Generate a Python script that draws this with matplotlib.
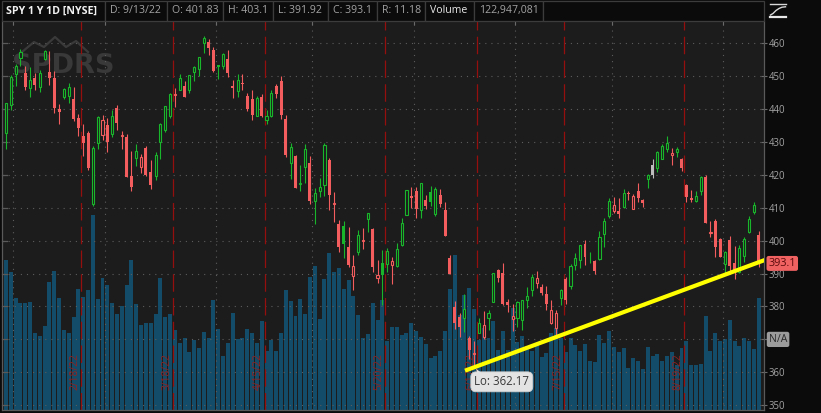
import matplotlib
matplotlib.use("Agg")
import matplotlib.pyplot as plt
from matplotlib.patches import Rectangle, Polygon
from matplotlib.lines import Line2D
import matplotlib.transforms as mtrans

plt.rcParams['font.family'] = ['Open Sans', 'DejaVu Sans']

# ---------------- data ----------------
dates = ["1/28", "1/31",
         "2/1", "2/2", "2/3", "2/4", "2/7", "2/8", "2/9", "2/10", "2/11", "2/14", "2/15", "2/16", "2/17", "2/18",
         "2/22", "2/23", "2/24", "2/25", "2/28",
         "3/1", "3/2", "3/3", "3/4", "3/7", "3/8", "3/9", "3/10", "3/11", "3/14", "3/15", "3/16", "3/17", "3/18",
         "3/21", "3/22", "3/23", "3/24", "3/25", "3/28", "3/29", "3/30", "3/31",
         "4/1", "4/4", "4/5", "4/6", "4/7", "4/8", "4/11", "4/12", "4/13", "4/14", "4/18", "4/19", "4/20", "4/21",
         "4/22", "4/25", "4/26", "4/27", "4/28", "4/29",
         "5/2", "5/3", "5/4", "5/5", "5/6", "5/9", "5/10", "5/11", "5/12", "5/13", "5/16", "5/17", "5/18", "5/19",
         "5/20", "5/23", "5/24", "5/25", "5/26", "5/27", "5/31",
         "6/1", "6/2", "6/3", "6/6", "6/7", "6/8", "6/9", "6/10", "6/13", "6/14", "6/15", "6/16", "6/17", "6/21",
         "6/22", "6/23", "6/24", "6/27", "6/28", "6/29", "6/30",
         "7/1", "7/5", "7/6", "7/7", "7/8", "7/11", "7/12", "7/13", "7/14", "7/15", "7/18", "7/19", "7/20", "7/21",
         "7/22", "7/25", "7/26", "7/27", "7/28", "7/29",
         "8/1", "8/2", "8/3", "8/4", "8/5", "8/8", "8/9", "8/10", "8/11", "8/12", "8/15", "8/16", "8/17", "8/18",
         "8/19", "8/22", "8/23", "8/24", "8/25", "8/26", "8/29", "8/30", "8/31",
         "9/1", "9/2", "9/6", "9/7", "9/8", "9/9", "9/12", "9/13"]

opens = [432.68, 441.24,
         450.68, 455.50, 450.95, 446.35, 449.51, 446.73, 455.22, 451.34, 449.41, 439.92, 443.73, 443.93, 443.22, 437.33,
         431.89, 432.66, 411.02, 429.61, 432.03,
         435.04, 432.37, 440.47, 431.75, 431.55, 419.62, 425.14, 422.52, 428.12, 420.89, 419.77, 429.89, 433.59, 438.00,
         444.34, 445.86, 446.91, 445.94, 451.16, 452.06, 460.02, 460.34, 457.89,
         453.31, 453.13, 455.22, 446.89, 445.59, 447.97, 444.11, 443.08, 438.03, 443.55, 436.81, 437.86, 446.92, 448.54,
         436.91, 423.67, 425.83, 417.24, 422.29, 423.59,
         412.07, 415.01, 417.08, 424.55, 411.10, 405.10, 404.49, 398.07, 389.37, 396.71, 399.98, 406.53, 403.50, 388.62,
         393.25, 392.83, 392.56, 392.31, 398.67, 407.91, 413.55,
         415.17, 409.42, 412.40, 414.78, 408.10, 413.93, 409.34, 394.88, 379.85, 376.85, 376.51, 370.51, 365.51, 371.89,
         370.62, 376.64, 381.40, 391.05, 390.23, 381.23, 376.24,
         376.56, 375.88, 382.11, 385.12, 387.27, 385.85, 383.65, 375.10, 373.61, 382.55, 388.38, 386.08, 392.47, 394.16,
         398.92, 395.75, 393.84, 394.36, 401.89, 407.58,
         409.15, 409.12, 410.30, 414.37, 409.66, 415.25, 412.22, 418.78, 422.99, 422.03, 424.77, 428.00, 425.98, 426.86,
         424.98, 417.05, 412.90, 412.11, 415.24, 419.39, 402.20, 405.89, 400.41,
         392.89, 400.28, 393.13, 390.37, 395.34, 402.74, 408.78, 401.83]

highs = [442.00, 450.28,
         453.63, 458.12, 452.97, 452.78, 450.99, 451.92, 457.88, 457.71, 451.61, 441.60, 446.28, 448.06, 446.57, 438.66,
         435.50, 433.26, 428.76, 437.84, 438.20,
         437.17, 439.72, 441.11, 433.37, 432.30, 427.21, 429.51, 426.43, 428.77, 424.55, 426.84, 435.68, 441.07, 444.86,
         446.46, 450.58, 448.49, 450.50, 452.98, 455.91, 462.07, 461.20, 458.76,
         453.46, 456.91, 457.83, 448.93, 450.69, 450.63, 445.00, 445.75, 444.11, 444.73, 439.75, 445.80, 447.57, 450.01,
         438.08, 429.64, 426.04, 422.92, 429.28, 425.87,
         415.92, 418.93, 429.66, 425.00, 414.80, 406.41, 406.08, 404.04, 395.80, 403.18, 403.97, 408.57, 403.80, 394.14,
         397.03, 397.73, 395.15, 399.45, 407.04, 415.38, 416.46,
         416.24, 417.44, 414.04, 416.61, 416.22, 415.82, 411.74, 395.78, 381.81, 377.94, 383.90, 371.00, 369.38, 376.52,
         378.72, 378.83, 390.09, 391.36, 393.16, 382.27, 380.66,
         381.70, 381.98, 385.87, 389.83, 390.64, 386.87, 386.16, 381.92, 379.05, 385.25, 389.09, 392.87, 396.26, 398.84,
         400.18, 396.47, 394.06, 402.88, 406.80, 413.03,
         413.41, 413.00, 415.68, 415.09, 414.15, 417.62, 412.75, 420.14, 424.95, 427.21, 429.40, 431.73, 428.05, 428.61,
         425.26, 417.10, 415.42, 415.11, 419.56, 419.96, 405.84, 406.60, 400.88,
         396.78, 401.56, 398.54, 398.59, 401.19, 407.51, 411.73, 403.10]

lows = [427.82, 439.81,
        446.94, 453.05, 445.71, 443.83, 445.85, 445.22, 455.01, 447.20, 438.94, 435.34, 443.18, 441.94, 436.42, 431.82,
        425.86, 421.35, 410.64, 427.86, 430.70,
        427.11, 431.57, 433.80, 427.88, 419.36, 415.12, 422.82, 420.44, 419.53, 415.79, 418.42, 424.80, 433.19, 437.22,
        440.68, 445.86, 443.71, 444.76, 448.43, 450.06, 457.18, 456.47, 451.16,
        449.14, 452.26, 449.82, 443.47, 443.53, 445.94, 439.39, 436.65, 437.84, 437.68, 435.61, 437.68, 443.48, 437.10,
        425.44, 418.84, 416.07, 415.01, 417.60, 411.21,
        405.02, 413.36, 413.71, 409.44, 405.73, 396.50, 394.82, 391.96, 385.15, 395.61, 397.60, 402.58, 390.55, 387.11,
        380.54, 390.38, 386.96, 391.89, 398.45, 407.70, 410.03,
        406.93, 407.04, 409.51, 410.55, 407.61, 410.38, 401.44, 389.75, 373.30, 370.59, 372.12, 364.08, 362.17, 371.81,
        370.18, 372.89, 381.37, 387.44, 380.53, 378.42, 372.56,
        373.80, 372.90, 379.60, 383.27, 385.66, 383.50, 378.99, 374.66, 371.04, 380.54, 380.66, 385.39, 391.03, 391.63,
        392.75, 393.21, 389.95, 394.05, 398.15, 406.77,
        408.40, 406.82, 410.00, 412.44, 409.60, 411.83, 410.22, 415.92, 419.21, 421.03, 424.71, 426.88, 422.98, 425.50,
        421.22, 411.82, 411.77, 411.77, 413.88, 405.25, 401.20, 394.95, 395.11,
        390.04, 390.33, 388.42, 390.20, 393.63, 402.46, 408.10, 391.92]

closes = [441.95, 449.91,
          452.95, 457.35, 446.60, 448.70, 447.26, 450.94, 457.54, 449.32, 440.46, 439.02, 446.10, 446.60, 437.06, 434.23,
          429.57, 421.95, 428.30, 437.75, 436.63,
          429.98, 437.89, 435.71, 432.17, 419.43, 416.25, 427.41, 425.48, 420.07, 417.00, 426.17, 435.62, 441.07, 444.52,
          444.39, 449.59, 443.80, 450.49, 452.69, 455.91, 461.55, 458.70, 451.64,
          452.92, 456.80, 451.03, 446.52, 448.77, 447.57, 439.92, 438.29, 443.31, 437.79, 437.97, 445.04, 444.71, 438.06,
          426.04, 428.51, 416.10, 417.27, 427.81, 412.00,
          414.48, 416.38, 429.06, 413.81, 411.34, 398.17, 399.09, 392.75, 392.34, 401.72, 400.09, 408.32, 391.86, 389.46,
          389.63, 396.92, 393.89, 397.37, 405.31, 415.26, 412.93,
          409.59, 417.39, 410.54, 411.79, 415.74, 411.22, 401.44, 389.80, 375.00, 373.87, 379.20, 366.65, 365.86, 375.07,
          374.39, 378.06, 390.08, 388.59, 380.65, 380.34, 377.25,
          381.24, 381.96, 383.25, 388.99, 388.67, 384.23, 380.83, 378.83, 377.91, 385.13, 381.95, 392.27, 394.77, 398.79,
          395.09, 395.57, 390.89, 401.04, 406.07, 411.99,
          410.77, 408.06, 414.45, 414.17, 413.47, 412.99, 411.35, 419.99, 419.99, 427.10, 428.86, 429.70, 426.65, 427.89,
          422.14, 413.35, 412.35, 413.67, 419.51, 405.31, 402.63, 398.21, 395.18,
          396.42, 392.24, 390.76, 397.78, 400.38, 406.60, 410.97, 393.10]

volumes_m = [165.0, 152.0,
             123.2, 117.4, 118.0, 118.5, 84.0, 81.0, 92.0, 140.0, 153.0, 123.0, 88.0, 84.5, 102.0, 132.6,
             124.0, 132.0, 213.9, 121.5, 145.0,
             137.0, 117.0, 105.0, 114.0, 137.0, 164.8, 116.0, 93.0, 95.5, 95.5, 105.0, 145.0, 102.0, 105.0,
             88.0, 73.5, 79.0, 63.7, 77.0, 68.0, 85.6, 79.0, 121.0,
             89.0, 59.0, 73.5, 106.0, 78.0, 79.0, 89.0, 84.0, 73.5, 97.7, 65.0, 77.0, 65.0, 84.5,
             132.0, 119.6, 103.0, 122.0, 105.0, 145.5,
             158.0, 100.0, 144.0, 172.0, 151.8, 155.6, 132.5, 142.4, 125.0, 104.0, 78.6, 83.0, 117.7, 98.5,
             121.0, 76.0, 91.4, 91.5, 82.2, 84.8, 95.9,
             86.6, 79.6, 71.9, 57.5, 59.3, 64.3, 86.3, 132.9, 170.0, 104.6, 125.7, 134.0, 111.0, 76.8,
             90.0, 79.0, 98.0, 66.0, 86.5, 65.7, 112.5,
             74.8, 81.4, 70.4, 64.5, 72.4, 58.4, 62.2, 84.2, 89.7, 79.1, 63.2, 78.5, 71.3, 64.9,
             72.2, 53.6, 52.9, 82.3, 73.4, 87.1,
             69.3, 63.4, 67.8, 45.6, 56.8, 53.9, 44.9, 68.7, 59.5, 61.7, 54.0, 59.3, 63.6, 49.0,
             68.0, 76.0, 49.0, 49.2, 50.9, 102.8, 65.1, 85.0, 76.0,
             78.0, 99.0, 76.0, 70.6, 79.0, 76.0, 67.0, 122.95]

prev_close_first = 431.24

expiry_dates = ["2/18", "3/18", "4/14", "5/20", "6/17", "7/15", "8/19"]
expiry_labels = ["2/18/22", "3/18/22", "4/15/22", "5/20/22", "6/17/22", "7/15/22", "8/19/22"]
month_starts = ["2/1", "3/1", "4/1", "5/2", "6/1", "7/1", "8/1", "9/1"]
price_ticks = [350, 360, 370, 380, 390, 400, 410, 420, 430, 440, 450, 460]
hidden_tick = 370          # covered by the N/A volume tag in the reference

trend_idx = [95.13, 157.66]
trend_price = [360.49, 394.35]
low_label = "Lo: 362.17"
low_date = "6/17"
low_value = 362.17

header_items = [("SPY 1 Y 1D [NYSE]", 2, 105), ("D: 9/13/22", 105, 167), ("O: 401.83", 167, 223),
                ("H: 403.1", 223, 273), ("L: 391.92", 273, 328), ("C: 393.1", 328, 377),
                ("R: 11.18", 377, 425), ("Volume", 425, 474), ("122,947,081", 474, 543), ("", 543, 764)]
last_price_label = "393.1"
volume_tag = "N/A"

# ---------------- style ----------------
W, H = 821, 413
BG = '#1c1c1c'
DARK = '#0b0b0b'
GREEN = '#19b52b'
RED = '#f45d5d'
GRAY_C = '#bdbdbd'
VOL = '#134c69'
GRID = '#5c5c5c'
EXP = '#950f0f'
TXT = '#a3a3a3'

fig = plt.figure(figsize=(W / 100, H / 100), dpi=100, facecolor=DARK)

L, R, T, B = 2, 764, 21, 410
pos = [L / W, 1 - B / H, (R - L) / W, (B - T) / H]
axv = fig.add_axes(pos)
ax = fig.add_axes(pos, sharex=axv)
ax.set_facecolor('none')
axv.set_facecolor(BG)

n = len(dates)
xs = list(range(n))
step = 4.825
x_lo = (L - 6) / step
x_hi = (R - 6) / step
axv.set_xlim(x_lo, x_hi)
ax.set_ylim(348.54, 466.78)
axv.set_ylim(0, (B - T) * 1.0977)

# volume bars
axv.bar(xs, volumes_m, width=0.82, color=VOL, linewidth=0, zorder=2)

# watermark
axv.text(12 / W, 1 - 66 / H, "SPDRS", transform=fig.transFigure, fontsize=19.5, family='DejaVu Sans',
         fontweight='bold', color='#393939', va='center', ha='left', zorder=1)
wm_x = [22, 34, 44, 55, 66, 76, 88]
wm_y = [52, 42, 47, 37, 47, 41, 52]
axv.add_line(Line2D([v / W for v in wm_x], [1 - v / H for v in wm_y], transform=fig.transFigure,
                    color='#3a3a3a', lw=1.6, zorder=1))

for s in axv.spines.values():
    s.set_visible(False)
axv.tick_params(axis='both', which='both', bottom=False, left=False, top=False, right=False,
                labelbottom=False, labelleft=False)
axv.set_yticks([])

# grid
for p in price_ticks:
    ax.axhline(p, color=GRID, lw=0.8, linestyle=(0, (1, 4.5)), zorder=1)
for d in month_starts:
    ax.axvline(dates.index(d) - 0.5, color=GRID, lw=0.8, linestyle=(0, (1, 4.5)), zorder=1)

# expiry lines + labels
for d, lab in zip(expiry_dates, expiry_labels):
    xp = dates.index(d) + 0.6
    ax.axvline(xp, color=EXP, lw=0.9, linestyle=(0, (14, 5)), zorder=2)
    ax.annotate(lab, xy=(xp, 0), xycoords=('data', 'axes fraction'), xytext=(-4.3, 14.4),
                textcoords='offset points', rotation=90, ha='center', va='bottom',
                color='#8e2222', fontsize=7.4, zorder=2)

# candles
for i in xs:
    o, h, l, c = opens[i], highs[i], lows[i], closes[i]
    pc = closes[i - 1] if i > 0 else prev_close_first
    if c > pc:
        col = GREEN
    elif c < pc:
        col = RED
    else:
        col = GRAY_C
    ax.vlines(i, l, h, color=col, lw=0.8, zorder=3)
    lo_b, hi_b = min(o, c), max(o, c)
    hgt = max(hi_b - lo_b, 0.2)
    if c > o:
        ax.add_patch(Rectangle((i - 0.22, lo_b), 0.44, hgt, facecolor=BG, edgecolor=col, lw=0.8, zorder=4))
    else:
        ax.add_patch(Rectangle((i - 0.31, lo_b), 0.62, hgt, facecolor=col, edgecolor='none', lw=0, zorder=4))

# trend line
ax.plot(trend_idx, trend_price, color='#ffff00', lw=3.0, solid_capstyle='butt', zorder=6)

# low bubble
li = dates.index(low_date)
ax.annotate(low_label, xy=(li, low_value), xytext=(20.0, -12.0), textcoords='offset points',
            ha='center', va='center', fontsize=8.3, color='#3a3a3a', zorder=8,
            bbox=dict(boxstyle='round,pad=0.3,rounding_size=0.45', fc='#e3e3e3', ec='#cfcfcf', lw=0.6))
tri_pts = [(2.0, -3.5), (3.5, -9.5), (9.5, -9.5)]
disp = [mtrans.offset_copy(ax.transData, fig=fig, x=dx, y=dy, units='dots').transform((li, low_value))
        for dx, dy in tri_pts]
fig_pts = [fig.transFigure.inverted().transform(p) for p in disp]
ax.add_patch(Polygon(fig_pts, closed=True, fc='#e3e3e3', ec='none', zorder=8, transform=fig.transFigure))

# axes styling
for name, s in ax.spines.items():
    s.set_color('#5a5a5a')
    s.set_linewidth(0.9)
ax.spines['top'].set_visible(False)
ax.yaxis.tick_right()
ax.set_yticks(price_ticks)
ax.set_yticklabels(["" if p == hidden_tick else str(p) for p in price_ticks])
ax.tick_params(axis='y', which='both', direction='inout', length=4, width=0.8, colors='#6a6a6a',
               labelcolor=TXT, labelsize=6.9, pad=1.5)
ax.set_xticks([dates.index(d) - 0.5 for d in month_starts])
ax.tick_params(axis='x', direction='in', length=3, width=0.8, colors='#6a6a6a', labelbottom=False,
               labeltop=False, top=True, bottom=False)

# left inner ticks
for p in price_ticks:
    ax.plot([x_lo, x_lo + 1.0], [p, p], color='#5a5a5a', lw=0.9, zorder=2, clip_on=False)

# last price label
ax.annotate(last_price_label, xy=(1, closes[-1]), xycoords=('axes fraction', 'data'), xytext=(3.2, 0),
            textcoords='offset points', ha='left', va='center', fontsize=7.8, color='#5a0a0a',
            bbox=dict(boxstyle='round,pad=0.18,rounding_size=0.2', fc='#f06262', ec='none'),
            annotation_clip=False)

# N/A volume tag
ax.annotate(volume_tag, xy=(1, hidden_tick), xycoords=('axes fraction', 'data'), xytext=(3.5, 0),
            textcoords='offset points', ha='left', va='center', fontsize=7.6, color='#2a2a2a',
            bbox=dict(boxstyle='round,pad=0.2,rounding_size=0.2', fc='#9c9c9c', ec='none'),
            annotation_clip=False)

# header
for lab, x0, x1 in header_items:
    fig.patches.append(Rectangle((x0 / W, 1 - 20.5 / H), (x1 - x0) / W, 19.5 / H, transform=fig.transFigure,
                                 figure=fig, facecolor=DARK, edgecolor='#3c3c3c', lw=0.9))
    if not lab:
        continue
    if lab.startswith("SPY"):
        fig.text((x0 + 3.5) / W, 1 - 10.8 / H, lab, fontsize=7.7, fontweight='bold', color='#f2f2f2',
                 ha='left', va='center')
    elif lab == "Volume":
        fig.text((x0 + 5) / W, 1 - 10.8 / H, lab, fontsize=7.6, color='#e8e8e8', ha='left', va='center')
    else:
        fig.text((x0 + 5) / W, 1 - 10.8 / H, lab, fontsize=7.6, color=TXT, ha='left', va='center')

# icon top-right
fig.add_artist(Line2D([770 / W, 786 / W], [1 - 3.5 / H, 1 - 3.5 / H], color='#d8d8d8', lw=1.0))
fig.add_artist(Line2D([770 / W, 786 / W], [1 - 16.7 / H, 1 - 16.7 / H], color='#e8e8e8', lw=1.6))
cx = [770.5, 773, 776, 779, 782, 785.5]
cy = [15.0, 13.5, 10.5, 8.5, 7.2, 6.8]
fig.add_artist(Line2D([v / W for v in cx], [1 - v / H for v in cy], color='#d8d8d8', lw=1.0))

fig.savefig("out.png", dpi=100, facecolor=DARK)
